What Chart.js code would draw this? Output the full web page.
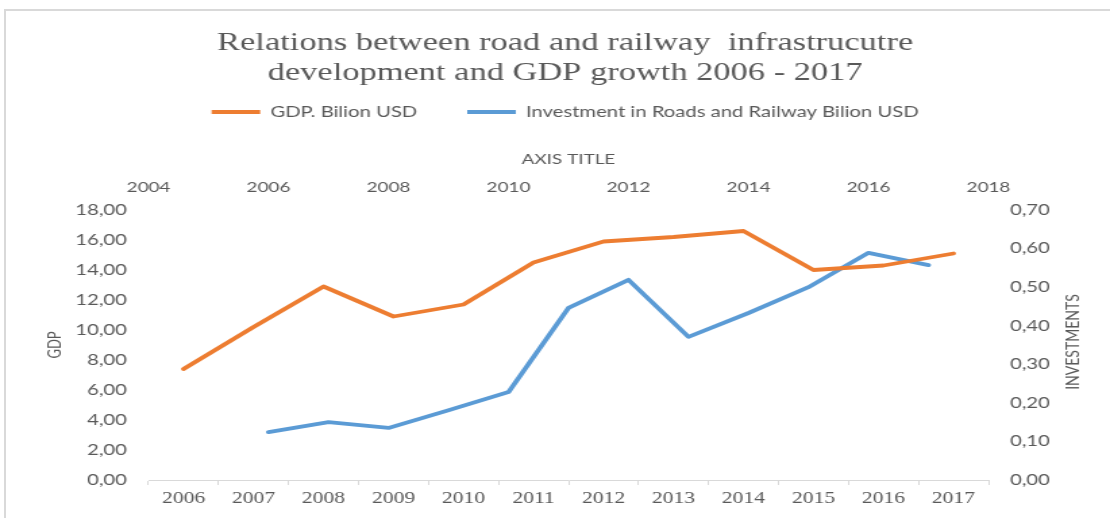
<!DOCTYPE html>
<html>
<head>
<meta charset="utf-8">
<title>Road and railway infrastructure vs GDP</title>
<script src="https://cdn.jsdelivr.net/npm/chart.js@4/dist/chart.umd.min.js"></script>
<style>
  html, body { margin: 0; padding: 0; background: #ffffff; width: 1110px; height: 518px; overflow: hidden; }
  #frame { position: absolute; left: 4px; top: 9px; right: 0; bottom: 0;
           border-left: 2px solid #d9d9d9; border-top: 2px solid #d9d9d9; }
  /* the chart is laid out at 822px and widened to the 1110px page */
  #stage { position: absolute; left: 0; top: 0; width: 822px; height: 518px;
           transform: scaleX(1.35036); transform-origin: 0 0; }
</style>
</head>
<body>
<div id="frame"></div>
<div id="stage"><canvas id="chart"></canvas></div>
<script>
// Categories for the GDP series (bottom axis)
const years = ['2006', '2007', '2008', '2009', '2010', '2011', '2012', '2013', '2014', '2015', '2016', '2017'];
// GDP, billion USD (left axis)
const gdp = [7.4, 10.2, 12.9, 10.9, 11.7, 14.5, 15.9, 16.2, 16.6, 14.0, 14.3, 15.1];
// Investment series: years on the top axis, values on the right axis
const investYears = [2006, 2007, 2008, 2009, 2010, 2011, 2012, 2013, 2014, 2015, 2016, 2017];
const investment = [0.124, 0.150, 0.135, 0.181, 0.228, 0.446, 0.519, 0.371, 0.433, 0.500, 0.589, 0.557];

const titleLines = ['Relations between road and railway  infrastrucutre', 'development and GDP growth 2006 - 2017'];
const gdpLabel = 'GDP. Bilion USD';
const investLabel = 'Investment in Roads and Railway Bilion USD';
const topAxisTitle = 'AXIS TITLE';
const leftAxisTitle = 'GDP';
const rightAxisTitle = 'INVESTMENTS';

// Layout (pre-stretch coordinates)
const W = 822, H = 518;
const PAD_L = 15;
const PLOT_LEFT = 110, PLOT_RIGHT = 732, PLOT_TOP = 210, PLOT_BOTTOM = 480;

const GREY = '#595959';
const ORANGE = '#ED7D31';
const BLUE = '#5B9BD5';

Chart.defaults.font.family = 'Lato';
Chart.defaults.color = GREY;

const comma2 = v => Number(v).toFixed(2).replace('.', ',');

// Right-hand axis title, reading bottom to top
const rightTitlePlugin = {
  id: 'rightTitle',
  afterDraw(chart) {
    const s = chart.scales.y2;
    const ctx = chart.ctx;
    ctx.save();
    ctx.translate(s.right - 27.4, (chart.chartArea.top + chart.chartArea.bottom) / 2 - 3);
    ctx.rotate(-Math.PI / 2);
    ctx.fillStyle = GREY;
    ctx.font = '14px Lato';
    ctx.textAlign = 'center';
    ctx.textBaseline = 'middle';
    ctx.fillText(rightAxisTitle, 0, 0);
    ctx.restore();
  }
};

new Chart(document.getElementById('chart'), {
  type: 'line',
  data: {
    labels: years,
    datasets: [
      {
        label: gdpLabel,
        data: gdp,
        xAxisID: 'x',
        yAxisID: 'y',
        borderColor: ORANGE,
        backgroundColor: ORANGE,
        borderWidth: 3.8,
        pointRadius: 0,
        tension: 0,
        borderJoinStyle: 'round',
        borderCapStyle: 'round'
      },
      {
        label: investLabel,
        data: investYears.map((yr, i) => ({ x: yr, y: investment[i] })),
        xAxisID: 'x2',
        yAxisID: 'y2',
        borderColor: BLUE,
        backgroundColor: BLUE,
        borderWidth: 3.8,
        pointRadius: 0,
        tension: 0,
        borderJoinStyle: 'round',
        borderCapStyle: 'round'
      }
    ]
  },
  options: {
    responsive: true,
    maintainAspectRatio: false,
    animation: false,
    layout: { padding: { left: PAD_L, right: 0, top: 0, bottom: 0 } },
    plugins: {
      tooltip: { enabled: false },
      title: {
        display: true,
        text: titleLines,
        color: GREY,
        font: { family: 'Liberation Serif', size: 25.5, weight: 'normal', lineHeight: 30 / 25.5 },
        padding: { top: 28, bottom: -20.5 }
      },
      legend: {
        display: true,
        position: 'top',
        labels: {
          color: GREY,
          font: { family: 'Lato', size: 15 },
          boxWidth: 36,
          boxHeight: 4,
          padding: 37,
          generateLabels(chart) {
            const items = Chart.defaults.plugins.legend.labels.generateLabels(chart);
            items.forEach(it => { it.fillStyle = it.strokeStyle; it.lineWidth = 0; });
            return items;
          }
        }
      }
    },
    scales: {
      x: {
        type: 'category',
        position: 'bottom',
        offset: true,
        grid: { display: true, drawOnChartArea: false, drawTicks: true, tickLength: 5, color: '#d9d9d9', lineWidth: 1, offset: true },
        border: { display: true, color: '#d9d9d9', width: 1 },
        ticks: { color: GREY, font: { family: 'Liberation Serif', size: 16 }, padding: 4, maxRotation: 0, autoSkip: false },
        afterFit(s) { s.height = H - PLOT_BOTTOM; }
      },
      x2: {
        type: 'linear',
        position: 'top',
        min: 2004,
        max: 2018,
        grid: { display: false, drawTicks: false },
        border: { display: false },
        ticks: { stepSize: 2, color: GREY, font: { family: 'Lato', size: 14 }, padding: 14, maxRotation: 0, callback: v => String(v) },
        title: { display: true, text: topAxisTitle, color: GREY, font: { family: 'Lato', size: 14 }, padding: { top: 22, bottom: 0 } },
        afterFit(s) { s.height = PLOT_TOP - s.chart.titleBlock.height - s.chart.legend.height; }
      },
      y: {
        type: 'linear',
        position: 'left',
        min: 0,
        max: 18,
        grid: { display: false, drawTicks: false },
        border: { display: false },
        ticks: { stepSize: 2, color: GREY, font: { family: 'Lato', size: 15 }, padding: 16, callback: comma2 },
        title: { display: true, text: leftAxisTitle, color: GREY, font: { family: 'Lato', size: 13 }, padding: { top: 18, bottom: 0 } },
        afterFit(s) { s.width = PLOT_LEFT - PAD_L; }
      },
      y2: {
        type: 'linear',
        position: 'right',
        min: 0,
        max: 0.7,
        grid: { display: false, drawTicks: false },
        border: { display: false },
        ticks: { stepSize: 0.1, color: GREY, font: { family: 'Lato', size: 15 }, padding: 16, callback: comma2 },
        afterFit(s) { s.width = W - PLOT_RIGHT; }
      }
    }
  },
  plugins: [rightTitlePlugin]
});
</script>
</body>
</html>
